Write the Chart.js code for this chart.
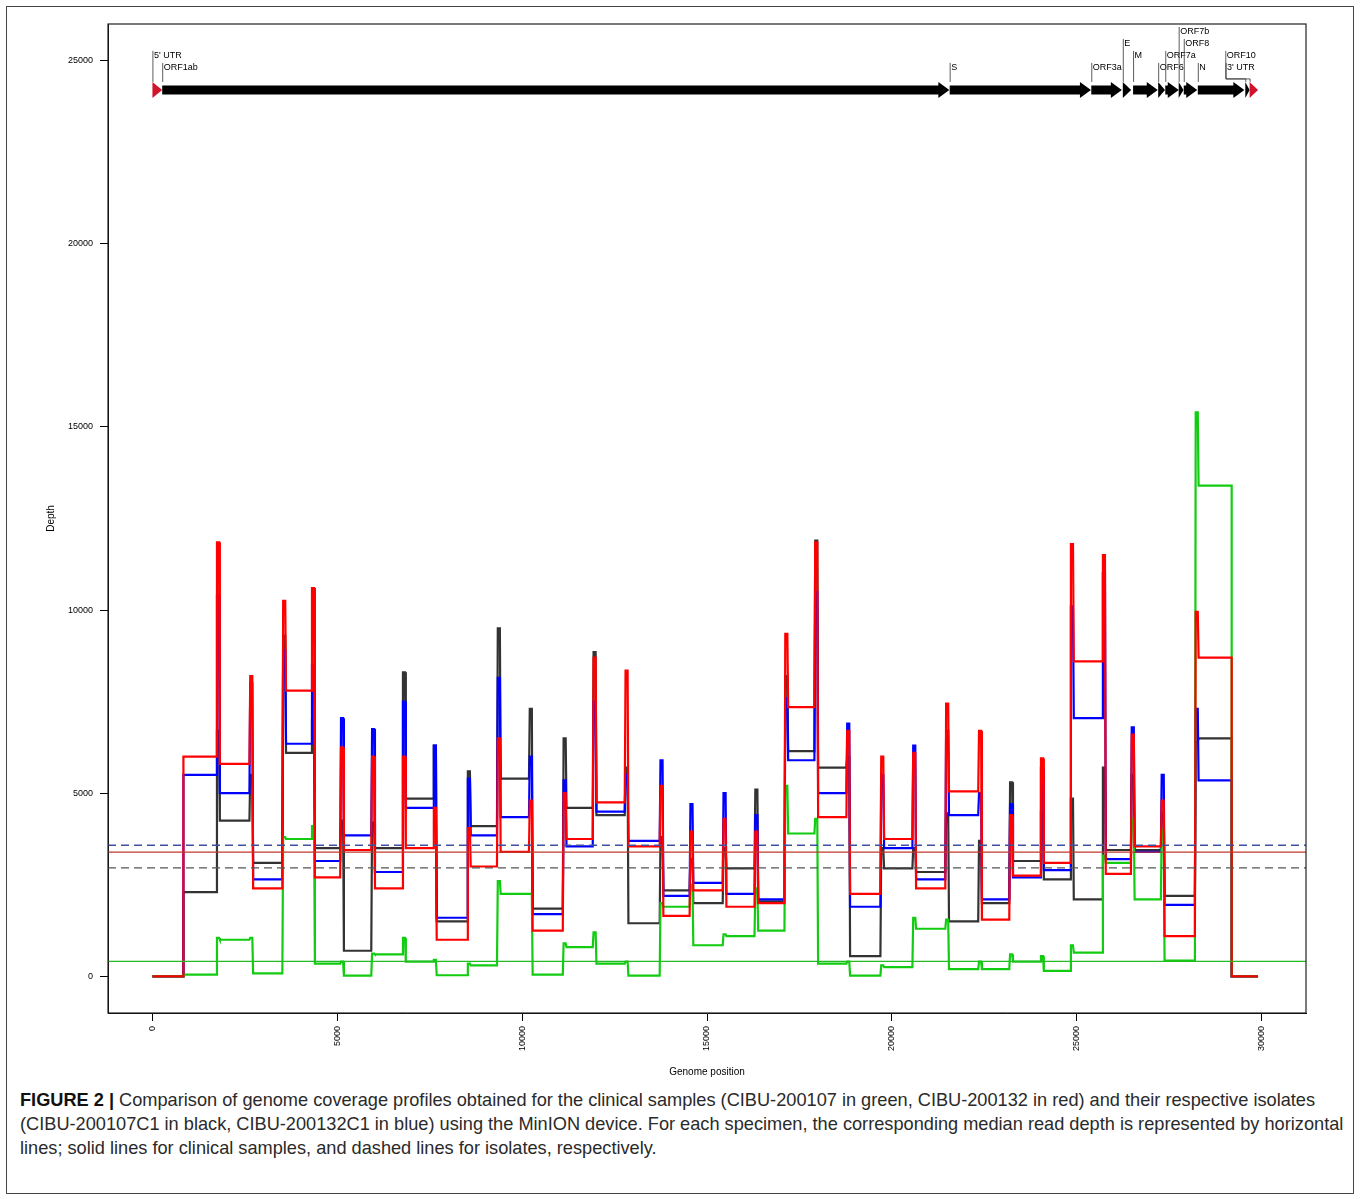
<!DOCTYPE html>
<html>
<head>
<meta charset="utf-8">
<script src="https://cdn.jsdelivr.net/npm/chart.js@4.4.1/dist/chart.umd.min.js"></script>
<style>
  body { margin: 0; background: #fff; font-family: 'Liberation Sans', Arial, sans-serif; }
  #frame { position: absolute; left: 6px; top: 6px; width: 1346px; height: 1186px; border: 1.5px solid #444; }
  #wrap { position: absolute; left: 0; top: 0; width: 1360px; height: 1085px; }
  #caption { position: absolute; left: 20px; top: 1088px; font-size: 18.2px; line-height: 24px; color: #2a2a2a; white-space: nowrap; }
  #caption b { color: #111; }
</style>
</head>
<body>
<div id="frame"></div>
<div id="wrap"><canvas id="coverageChart"></canvas></div>
<div id="caption"><b>FIGURE 2 |</b> Comparison of genome coverage profiles obtained for the clinical samples (CIBU-200107 in green, CIBU-200132 in red) and their respective isolates<br>(CIBU-200107C1 in black, CIBU-200132C1 in blue) using the MinION device. For each specimen, the corresponding median read depth is represented by horizontal<br>lines; solid lines for clinical samples, and dashed lines for isolates, respectively.</div>
<script>
// Genoma de referencia y limites de los amplicones (posicion en el genoma)
var genomeLength = 29903;
var ampliconBounds = [840, 1775, 2675, 3565, 4345, 5130, 5970, 6805, 7640, 8560, 9370, 10235, 11150, 11960,
  12825, 13770, 14580, 15475, 16335, 17145, 17955, 18820, 19740, 20605, 21495, 22385, 23225, 24060, 24870,
  25735, 26515, 27325, 28245, 29190];

// Profundidad de cada amplicon (nivel) y del solapamiento entre amplicones (pico)
var redLevels = [6000, 5800, 2400, 7800, 2700, 3450, 2400, 3500, 1000, 3000, 3400, 1250, 3750, 4750, 3550, 1650,
  2350, 1900, 2000, 7350, 4350, 2250, 3750, 2400, 5050, 1550, 2750, 3100, 8600, 2800, 3550, 1100, 8700];
var redPeaks = [11850, 8200, 10250, 10600, 6250, 6000, 6000, 4600, 4050, 6500, 4800, 5000, 8700, 8350, 5200, 3950,
  4300, 3950, 9350, 11850, 6700, 6000, 6100, 7450, 6700, 4400, 5950, 11800, 11500, 6600, 4800, 9950];

var blueLevels = [5500, 5000, 2650, 6350, 3150, 3850, 2850, 4600, 1600, 3850, 4350, 1700, 3550, 4500, 3700, 2200,
  2550, 2250, 2100, 5900, 5000, 1900, 3500, 2650, 4400, 2100, 2700, 2900, 7050, 3200, 3400, 1950, 5350];
var bluePeaks = [10400, 8000, 8900, 8500, 7050, 6750, 7500, 6300, 5400, 8150, 6000, 5350, 7500, 5500, 5900, 4700,
  5000, 4400, 7600, 10500, 6900, 5500, 6300, 6700, 5000, 4700, 5700, 10100, 11000, 6800, 5500, 7300];

var blackLevels = [2300, 4250, 3100, 6100, 3500, 700, 3500, 4850, 1500, 4100, 5400, 1850, 4600, 4400, 1450, 2350,
  2000, 2950, 2050, 6150, 5700, 550, 2950, 2850, 1500, 2000, 3150, 2650, 2100, 3450, 3450, 2200, 6500];
var blackPeaks = [6700, 5500, 9300, 7000, 4250, 4200, 8300, 6300, 5600, 9500, 7300, 6500, 8850, 5700, 3800, 3200,
  3500, 5100, 8200, 11900, 6000, 3500, 3500, 4450, 3700, 5300, 4500, 4850, 5700, 5500, 4450, 6400];

var greenLevels = [50, 1000, 80, 3750, 350, 20, 600, 400, 30, 300, 2250, 50, 800, 350, 20, 1900,
  850, 1100, 1250, 3900, 350, 20, 250, 1300, 200, 200, 400, 150, 650, 3100, 2100, 430, 13400];
var greenPeaks = [1050, 1050, 3800, 4100, 400, 620, 1050, 450, 350, 2600, 2250, 900, 1200, 400, 2000, 2500,
  1150, 2400, 5200, 4300, 400, 300, 1600, 1550, 400, 600, 550, 850, 3300, 4300, 4000, 15400];

// Mediana de profundidad de cada muestra
var medianGreen = 410;
var medianRed = 3390;
var medianBlue = 3580;
var medianBlack = 2960;

// Anotacion de genes
var geneNames = ["5' UTR", "ORF1ab", "S", "ORF3a", "E", "M", "ORF6", "ORF7a", "ORF7b", "ORF8", "N", "ORF10", "3' UTR"];
var geneStart = [1, 266, 21563, 25393, 26245, 26523, 27202, 27394, 27756, 27894, 28274, 29558, 29675];
var geneEnd = [265, 21555, 25384, 26220, 26472, 27191, 27387, 27759, 27887, 28259, 29533, 29674, 29903];

var xTicks = [0, 5000, 10000, 15000, 20000, 25000, 30000];
var yTicks = [0, 5000, 10000, 15000, 20000, 25000];

// Construir el perfil de cobertura a partir de niveles y picos
function buildProfile(levels, peaks) {
    var b = ampliconBounds;
    var last = levels.length - 1;
    var pts = [{x: 1, y: 0}, {x: b[0], y: 0}];
    for (var i = 0; i <= last; i++) {
        pts.push({x: i === 0 ? b[0] : b[i] + 50, y: levels[i]});
        pts.push({x: i === last ? b[i + 1] : b[i + 1] - 50, y: levels[i]});
        if (i < last) {
            pts.push({x: b[i + 1] - 28, y: peaks[i]});
            pts.push({x: b[i + 1] + 28, y: peaks[i]});
        }
    }
    pts.push({x: b[b.length - 1], y: 0});
    pts.push({x: genomeLength, y: 0});
    return pts;
}

var xMin = -1200, xMax = 31200;

function profileSet(label, levels, peaks, color, order) {
    return { label: label, data: buildProfile(levels, peaks), borderColor: color, borderWidth: 2.2,
             pointRadius: 0, tension: 0, order: order };
}

function medianSet(label, value, color, dash) {
    return { label: label, data: [{x: xMin, y: value}, {x: xMax, y: value}], borderColor: color,
             borderWidth: 1.3, borderDash: dash, pointRadius: 0, order: 0 };
}

// Plugin: caja del grafico, titulos de ejes y pista de genes
var genePlugin = {
    id: 'genes',
    afterDatasetsDraw: function(chart, args, opts) {
        var ctx = chart.ctx, xs = chart.scales.x, ys = chart.scales.y, area = chart.chartArea;
        var yc = ys.getPixelForValue(opts.trackDepth);
        ctx.save();
        ctx.font = "9px 'Liberation Sans', Arial, sans-serif";
        ctx.textBaseline = 'alphabetic';
        for (var i = 0; i < geneNames.length; i++) {
            var x1 = xs.getPixelForValue(geneStart[i]);
            var x2 = xs.getPixelForValue(geneEnd[i]);
            var head = Math.min(11, x2 - x1);
            ctx.fillStyle = geneNames[i].indexOf('UTR') >= 0 ? '#d0142c' : '#000';
            ctx.beginPath();
            ctx.moveTo(x1, yc - 4.5);
            ctx.lineTo(x2 - head, yc - 4.5);
            ctx.lineTo(x2 - head, yc - 8);
            ctx.lineTo(x2, yc);
            ctx.lineTo(x2 - head, yc + 8);
            ctx.lineTo(x2 - head, yc + 4.5);
            ctx.lineTo(x1, yc + 4.5);
            ctx.closePath();
            ctx.fill();

            var base = yc - 20 - opts.rows[i] * 12;
            var tx = x1 + opts.shift[i];
            ctx.strokeStyle = '#333';
            ctx.lineWidth = 0.8;
            ctx.beginPath();
            if (opts.shift[i] === 0) {
                ctx.moveTo(x1 + 0.5, yc - 8);
                ctx.lineTo(x1 + 0.5, base - 7);
            } else {
                ctx.moveTo(x1 + 0.5, yc - 8);
                ctx.lineTo(x1 + 0.5, yc - 11);
                ctx.lineTo(tx + 0.5, yc - 11);
                ctx.lineTo(tx + 0.5, base - 7);
            }
            ctx.stroke();
            ctx.fillStyle = '#000';
            ctx.textAlign = 'left';
            ctx.fillText(geneNames[i], tx + 1.5, base);
        }

        // caja
        ctx.strokeStyle = '#222';
        ctx.lineWidth = 1.2;
        ctx.strokeRect(area.left, area.top, area.right - area.left, area.bottom - area.top);

        // titulos de ejes
        ctx.fillStyle = '#000';
        ctx.font = "10px 'Liberation Sans', Arial, sans-serif";
        ctx.textAlign = 'center';
        ctx.textBaseline = 'middle';
        ctx.fillText('Genome position', (area.left + area.right) / 2, area.bottom + 59);
        ctx.translate(area.left - 57, (area.top + area.bottom) / 2);
        ctx.rotate(-Math.PI / 2);
        ctx.fillText('Depth', 0, 0);
        ctx.restore();
    }
};

Chart.defaults.font.family = "'Liberation Sans', Arial, sans-serif";
Chart.defaults.color = '#000';

var ctx = document.getElementById('coverageChart').getContext('2d');
var coverageChart = new Chart(ctx, {
    type: 'line',
    data: {
        datasets: [
            medianSet('Median CIBU-200107', medianGreen, '#22bb22', []),
            medianSet('Median CIBU-200132', medianRed, '#c0392b', []),
            medianSet('Median CIBU-200132C1', medianBlue, '#4050a0', [8, 5]),
            medianSet('Median CIBU-200107C1', medianBlack, '#555555', [8, 5]),
            profileSet('CIBU-200132', redLevels, redPeaks, '#ff0000', 1),
            profileSet('CIBU-200107', greenLevels, greenPeaks, '#11cc11', 2),
            profileSet('CIBU-200132C1', blueLevels, bluePeaks, '#0000ff', 3),
            profileSet('CIBU-200107C1', blackLevels, blackPeaks, '#333333', 4)
        ]
    },
    options: {
        responsive: true,
        maintainAspectRatio: false,
        animation: false,
        layout: { padding: { left: 0, top: 24, right: 54, bottom: 0 } },
        plugins: {
            legend: { display: false },
            tooltip: { enabled: false },
            genes: {
                trackDepth: 24200,
                rows: [1, 0, 0, 0, 2, 1, 0, 1, 3, 2, 0, 1, 0],
                shift: [0, 0, 0, 0, 0, 0, 0, 0, 0, 0, 0, -20, -24]
            }
        },
        scales: {
            x: {
                type: 'linear',
                min: xMin,
                max: xMax,
                afterBuildTicks: function(scale) { scale.ticks = xTicks.map(function(v) { return {value: v}; }); },
                afterFit: function(scale) { scale.height = 72; },
                grid: { drawOnChartArea: false, drawTicks: true, tickLength: 8, color: '#000' },
                border: { display: true, color: '#000' },
                ticks: { autoSkip: false, minRotation: 90, maxRotation: 90, padding: 5, font: { size: 9 },
                         callback: function(v) { return String(v); } }
            },
            y: {
                type: 'linear',
                min: -1000,
                max: 26000,
                afterBuildTicks: function(scale) { scale.ticks = yTicks.map(function(v) { return {value: v}; }); },
                afterFit: function(scale) { scale.width = 108; },
                grid: { drawOnChartArea: false, drawTicks: true, tickLength: 8, color: '#000' },
                border: { display: true, color: '#000' },
                ticks: { autoSkip: false, padding: 7, font: { size: 9 },
                         callback: function(v) { return String(v); } }
            }
        }
    },
    plugins: [genePlugin]
});
</script>
</body>
</html>
